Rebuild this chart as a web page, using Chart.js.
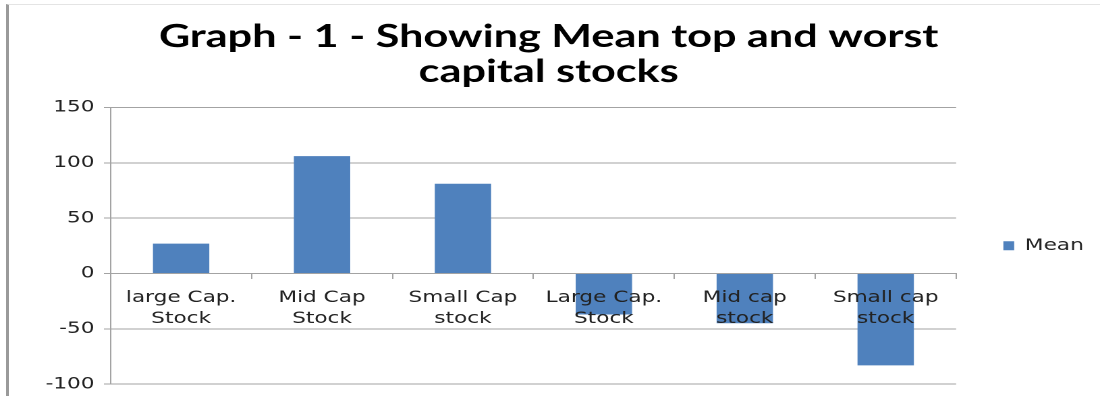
<!DOCTYPE html>
<html>
<head>
<meta charset="utf-8">
<script src="https://cdn.jsdelivr.net/npm/chart.js@4/dist/chart.umd.min.js"></script>
<style>
  html, body { margin: 0; padding: 0; background: #fff; }
  #wrap { position: relative; width: 1100px; height: 396px; overflow: hidden; }
  #c { position: absolute; left: 0; top: 0; width: 1100px !important; height: 396px !important; }
  #frame { position: absolute; left: 6px; top: 4px; right: 0; bottom: 0;
           border-left: 3px solid #9a9a9a; border-top: 1px solid #e4e4e4; pointer-events: none; }
</style>
</head>
<body>
<div id="wrap">
  <!-- the original picture is stretched sideways, so the canvas is drawn narrower and widened by css -->
  <canvas id="c" width="815" height="396" style="width:1100px;height:396px"></canvas>
  <div id="frame"></div>
</div>
<script>
const categories = [
    ['large Cap.', 'Stock'],
    ['Mid Cap', 'Stock'],
    ['Small Cap', 'stock'],
    ['Large Cap.', 'Stock'],
    ['Mid cap', 'stock'],
    ['Small cap', 'stock']
];
const meanValues = [27, 106, 81, -37, -45, -83];
const titleLines = ['Graph - 1 - Showing Mean top and worst', 'capital stocks'];
const seriesName = 'Mean';

const gridColor = '#a3a3a3';
const tickFont = { family: 'DejaVu Sans', size: 16, lineHeight: 1.3 };

new Chart('c', {
    type: 'bar',
    data: {
        labels: categories,
        datasets: [{
            label: seriesName,
            data: meanValues,
            backgroundColor: '#4F81BD',
            borderWidth: 0,
            barPercentage: 0.4,
            categoryPercentage: 1
        }]
    },
    options: {
        responsive: false,
        devicePixelRatio: 2,
        animation: false,
        layout: {
            padding: { left: 0, right: 2, top: 0, bottom: 7 }
        },
        plugins: {
            title: {
                display: true,
                text: titleLines,
                color: '#000',
                font: { family: 'Lato', size: 32, weight: 'bold', lineHeight: 1.1 },
                padding: { top: 19, bottom: 18 }
            },
            legend: {
                position: 'right',
                fullSize: false,
                labels: {
                    boxWidth: 8,
                    boxHeight: 9,
                    padding: 35,
                    color: '#222',
                    font: { family: 'DejaVu Sans', size: 16 }
                }
            },
            tooltip: { enabled: false }
        },
        scales: {
            x: {
                position: { y: 0 },
                // axis sits on the zero line, it needs no room of its own
                afterFit(scale) { scale.height = 0; },
                grid: {
                    drawOnChartArea: false,
                    drawTicks: true,
                    tickLength: 5,
                    color: gridColor,
                    offset: true,
                    z: 1
                },
                border: { color: gridColor, z: 1 },
                ticks: {
                    z: 1,
                    color: '#222',
                    font: tickFont,
                    autoSkip: false,
                    maxRotation: 0,
                    padding: 9
                }
            },
            y: {
                min: -100,
                max: 150,
                afterFit(scale) { scale.width = 82; },
                grid: {
                    color: gridColor,
                    tickLength: 5
                },
                border: { color: gridColor },
                ticks: {
                    stepSize: 50,
                    color: '#222',
                    // small line height so the end labels ask for less room
                    font: { family: 'DejaVu Sans', size: 16, lineHeight: 0.6 },
                    padding: 7
                }
            }
        }
    }
});
</script>
</body>
</html>
